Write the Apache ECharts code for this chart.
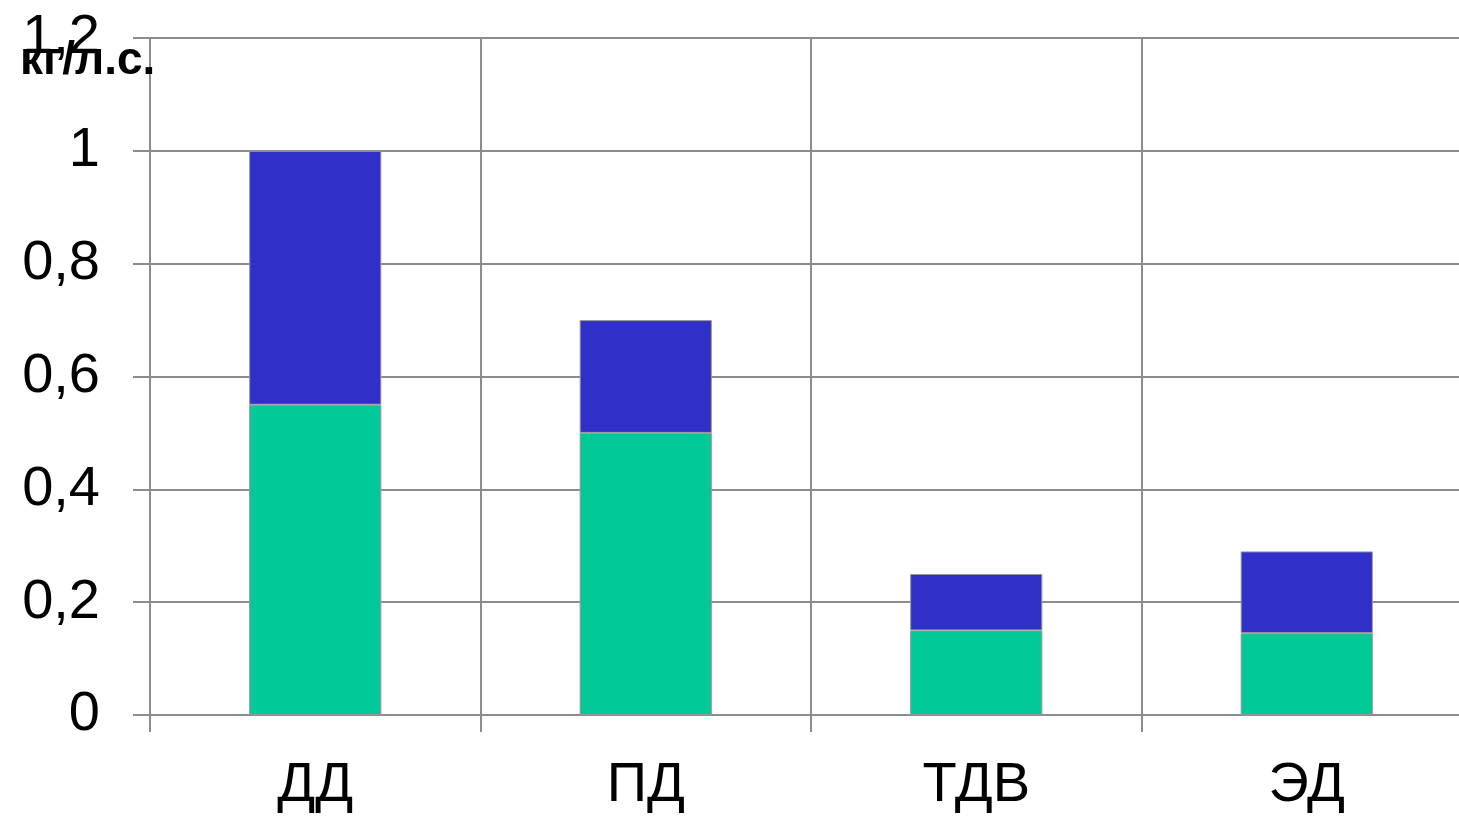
<!DOCTYPE html>
<html>
<head>
<meta charset="utf-8">
<script src="https://cdn.jsdelivr.net/npm/echarts@6/dist/echarts.min.js"></script>
<style>
  html, body { margin: 0; padding: 0; background: #fff; overflow: hidden; }
  /* последняя категория уходит за правый край картинки */
  #chart { width: 1472px; height: 816px; }
</style>
</head>
<body>
<div id="chart"></div>
<script>
// категории двигателей и удельная масса, кг/л.с.
const categories = ['ДД', 'ПД', 'ТДВ', 'ЭД']
const lowerPart = [0.55, 0.50, 0.15, 0.145]
const upperPart = [0.45, 0.20, 0.10, 0.145]
const yTicks = [0, 0.2, 0.4, 0.6, 0.8, 1, 1.2]

const gridColor = '#8c8c8c'
const font = 'Liberation Sans, Arial, sans-serif'

const myChart = echarts.init(document.getElementById('chart'))

const option = {
  backgroundColor: '#ffffff',
  animation: false,
  title: {
    text: 'кг/л.с.',
    left: 15,
    top: 33,
    textStyle: {
      fontFamily: font,
      fontWeight: 'bold',
      fontSize: 46,
      color: '#000'
    }
  },
  grid: {
    left: 150,
    right: 0,
    top: 38,
    bottom: 101
  },
  xAxis: {
    type: 'category',
    data: categories,
    axisLine: { show: true, lineStyle: { color: gridColor, width: 2 } },
    axisTick: { show: true, length: 17, interval: 0, lineStyle: { color: gridColor, width: 2 } },
    splitLine: { show: true, interval: 0, lineStyle: { color: gridColor, width: 2 } },
    axisLabel: {
      margin: 43,
      fontFamily: font,
      fontSize: 56,
      color: '#000'
    }
  },
  yAxis: {
    type: 'value',
    min: yTicks[0],
    max: yTicks[yTicks.length - 1],
    interval: 0.2,
    axisLine: { show: true, lineStyle: { color: gridColor, width: 2 } },
    axisTick: { show: true, length: 17, lineStyle: { color: gridColor, width: 2 } },
    splitLine: { show: true, lineStyle: { color: gridColor, width: 2 } },
    axisLabel: {
      margin: 50,
      fontFamily: font,
      fontSize: 56,
      color: '#000',
      formatter: function (v) {
        return String(Math.round(v * 10) / 10).replace('.', ',')
      }
    }
  },
  series: [
    {
      name: 'нижняя часть',
      type: 'bar',
      stack: 'total',
      barWidth: '40%',
      data: lowerPart,
      itemStyle: { color: '#00c896', borderColor: '#9a9a9a', borderWidth: 1 }
    },
    {
      name: 'верхняя часть',
      type: 'bar',
      stack: 'total',
      barWidth: '40%',
      data: upperPart,
      itemStyle: { color: '#3030c8', borderColor: '#9a9a9a', borderWidth: 1 }
    }
  ]
}

myChart.setOption(option)
</script>
</body>
</html>
